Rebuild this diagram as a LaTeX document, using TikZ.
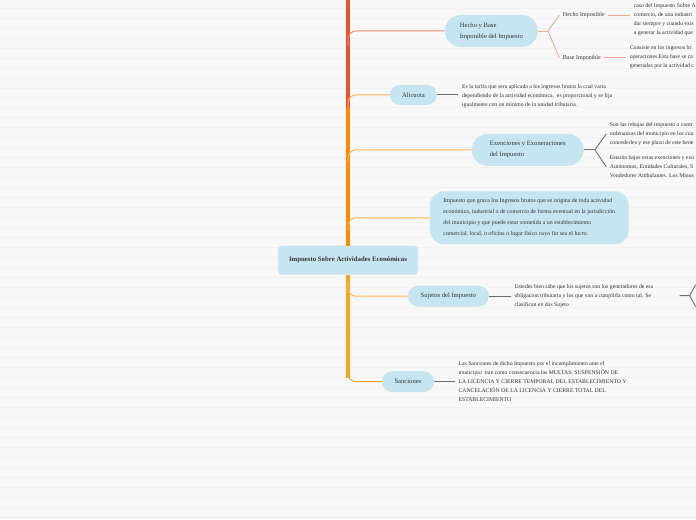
\documentclass[tikz,border=0pt]{standalone}
\usepackage{fontspec}
\setmainfont{Liberation Serif}
\usepackage{xcolor}
\usepackage{tikz}
\usetikzlibrary{calc}

\definecolor{nodoazul}{HTML}{C6E5F0}
\definecolor{troncorojo}{HTML}{E9542F}
\definecolor{troncoama}{HTML}{FF8C00}
\definecolor{troncoclaro}{HTML}{FFA21F}
\definecolor{ramasalmon}{HTML}{F08A6C}
\definecolor{ramanaranja}{HTML}{FFB555}
\definecolor{subsalmon}{HTML}{F6A995}
\definecolor{subgris}{HTML}{6E6E6E}
\definecolor{fondo}{HTML}{F8F8F8}
\definecolor{raya}{HTML}{F1F1F1}
\definecolor{letra}{HTML}{333333}

\begin{document}
\begin{tikzpicture}[x=1pt,y=-1pt,
			raiz/.style={fill=nodoazul,rounded corners=4pt,inner sep=0pt,minimum width=140pt,minimum height=29pt,text=letra,font=\bfseries\fontsize{6.8}{8}\selectfont},
			tema/.style={fill=nodoazul,rounded corners=#1,inner sep=0pt,align=left,text=letra,font=\fontsize{6.6}{11}\selectfont},
			etiqueta/.style={anchor=west,inner xsep=3.5pt,inner ysep=0pt,text=letra,font=\fontsize{6}{8}\selectfont},
			texto/.style={anchor=west,inner xsep=3.5pt,inner ysep=0pt,align=left,text=letra,font=\fontsize{5.75}{9}\selectfont},
			rama/.style={line width=1pt,rounded corners=8pt},
			sub/.style={line width=0.9pt},
			]
			% fondo rayado
			\fill[fondo] (0,0) rectangle (696,520);
			\foreach \y in {8,18,...,518}
			\draw[raya,line width=0.8pt] (0,\y)--(696,\y);
			\useasboundingbox (0,0) rectangle (696,520);
			\clip (0,0) rectangle (696,520);
			
			% nodos principales
			\node[raiz] (raiz) at (348,260.5) {Impuesto Sobre Actividades Económicas};
			\node[tema=16pt,minimum width=93pt,minimum height=32pt] (hecho) at (491.5,31) {Hecho y Base\\Imponible del Impuesto};
			\node[tema=10pt,minimum width=47pt,minimum height=20pt] (alicuota) at (413.5,95) {Alicuota};
			\node[tema=16pt,minimum width=112pt,minimum height=32pt] (exen) at (528,150) {Exenciones y Exoneraciones\\del Impuesto};
			\node[tema=14pt,minimum width=199pt,minimum height=53pt,font=\fontsize{5.9}{11}\selectfont] (grava) at (529.5,218)
			{Impuesto que grava los Ingresos brutos que se origina de toda actividad\\
				económica, industrial o de comercio de forma eventual en la jurisdicción\\
				del municipio y que puede estar sometida a un establecimiento\\
				comercial, local, o oficina o lugar físico cuyo fin sea el lucro.};
			\node[tema=10.5pt,minimum width=81pt,minimum height=21pt] (sujetos) at (448.5,296.5) {Sujetos del Impuesto};
			\node[tema=10.5pt,minimum width=52pt,minimum height=21pt] (sanciones) at (408,382) {Sanciones};
			
			% tronco
			\coordinate (arriba) at (348,0);
			\coordinate (codo) at (348,108);
			\draw[troncoama,line width=5pt] (raiz.north)--(348,97);
			\draw[troncorojo,line width=5pt] (arriba)--(codo);
			\draw[troncoclaro,line width=3.5pt] (raiz.south)--(348,378);
			
			% ramas del tronco
			\draw[rama,ramasalmon] (348,46) |- (hecho.west);
			\draw[rama,ramanaranja] (348,108) |- (alicuota.west);
			\draw[rama,ramanaranja] (348,163) |- (exen.west);
			\draw[rama,ramanaranja] (348,231) |- (grava.west);
			\draw[rama,ramanaranja] (348,283) |- (sujetos.west);
			\draw[rama,troncoclaro] (348,368) |- (sanciones.west);
			
			% Hecho y Base Imponible
			\coordinate (forkH) at ($(hecho.east)+(10,0)$);
			\node[etiqueta] (himp) at (559.5,15) {Hecho Imponible};
			\node[etiqueta] (bimp) at (559.5,58) {Base Imponible};
			\node[texto] (hdesc) at (630.5,19.5) {caso del Impuesto Sobre A\\comercio, de una industri\\dar siempre y cuando exis\\a generar la actividad que};
			\node[texto] (bdesc) at (626.5,57.5) {Consiste en los ingresos br\\operaciones.Esta base se ca\\generadas por la actividad c};
			\draw[sub,subsalmon] (hecho.east)--(forkH);
			\draw[sub,subsalmon] (forkH)--(himp.west);
			\draw[sub,subsalmon] (forkH)--(bimp.west);
			\draw[sub,subsalmon] (himp.east)--(himp.east -| hdesc.west);
			\draw[sub,subsalmon] (bimp.east)--(bimp.east -| bdesc.west);
			
			% Alicuota
			\node[texto] (alidesc) at (458.5,96) {Es la tarifa que sera aplicada a los ingresos brutos la cual varia\\dependiendo de la actividad económica,\ \ es proporcional y se fija\\igualmente con un minimo de la unidad tributaria .};
			\draw[sub,subgris] (alicuota.east)--(alicuota.east -| alidesc.west);
			
			% Exenciones
			\coordinate (forkE) at ($(exen.east)+(11,0)$);
			\node[texto] (exdesc1) at (606.5,134) {Son las rebajas del impuesto o contr\\ordenanzas del municipio en los cua\\concederles y ese plazo de este bene};
			\node[texto] (exdesc2) at (606.5,167) {Estarán bajos estas exenciones y exo\\Autónomos, Entidades Culturales, S\\Vendedores Ambulantes. Los Minus};
			\draw[sub,subgris] (exen.east)--(forkE);
			\draw[sub,subgris] (forkE)--(exdesc1.west);
			\draw[sub,subgris] (forkE)--(exdesc2.west);
			
			% Sujetos
			\node[texto] (sujdesc) at (511,296) {Ustedes bien sabe que los sujetos son los generadores de esa\\obligacion tributaria y los que van a cumplirla como tal. Se\\clasifican en dos Sujeto};
			\draw[sub,subgris] (sujetos.east)--(sujetos.east -| sujdesc.west);
			\coordinate (sujfin) at (680,296);
			\coordinate (forkS) at (690,296);
			\coordinate (sujA) at (699,280);
			\coordinate (sujB) at (699,312);
			\draw[sub,subgris] (sujfin)--(forkS)--(sujA);
			\draw[sub,subgris] (forkS)--(sujB);
			
			% Sanciones
			\node[texto,font=\fontsize{5.75}{8.8}\selectfont] (sandesc) at (455,382) {Las Sanciones de dicho Impuesto por el incumplimiento ante el\\municipio\ \ trae como consecuencia las MULTAS, SUSPENSIÓN DE\\LA LICENCIA Y CIERRE TEMPORAL DEL ESTABLECIMIENTO Y\\CANCELACIÓN DE LA LICENCIA Y CIERRE TOTAL DEL\\ESTABLECIMIENTO};
			\draw[sub,subgris] (sanciones.east)--(sanciones.east -| sandesc.west);
		\end{tikzpicture}
\end{document}
